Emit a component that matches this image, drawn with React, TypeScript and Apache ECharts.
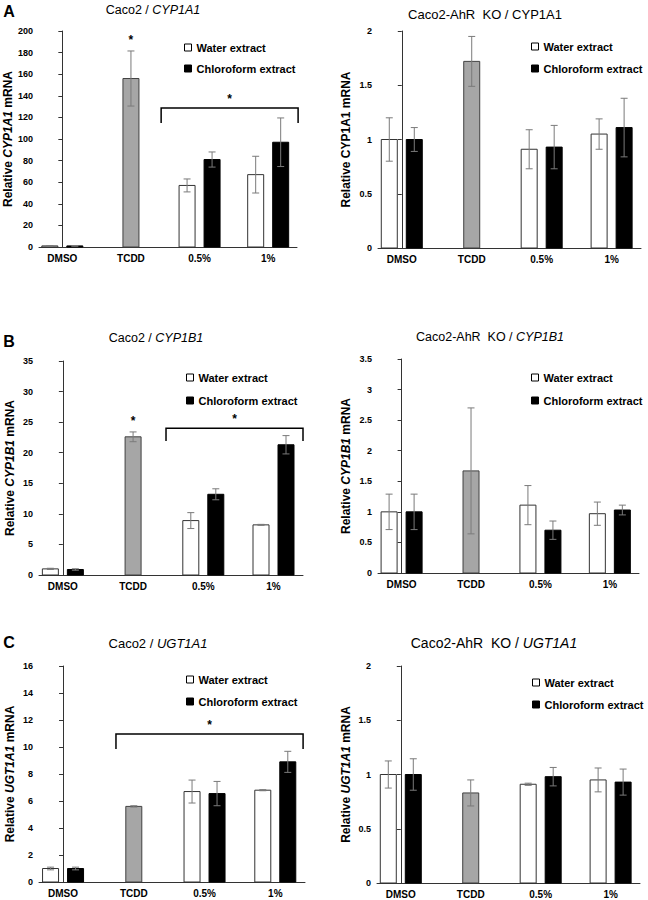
import React, { useEffect, useRef } from 'react';
import * as echarts from 'echarts';

// ---------- data ----------
const groups = ['DMSO', 'TCDD', '0.5%', '1%'];

// A: CYP1A1
const caco2Cyp1a1Water = [1, null, 57, 67];
const caco2Cyp1a1WaterErr = [0.3, null, 6, 17];
const caco2Cyp1a1Chloro = [1, null, 81, 97];
const caco2Cyp1a1ChloroErr = [0.3, null, 7, 22.5];
const caco2Cyp1a1Tcdd = 156;
const caco2Cyp1a1TcddErr = 25.5;

const koCyp1a1Water = [1.0, null, 0.91, 1.05];
const koCyp1a1WaterErr = [0.2, null, 0.18, 0.14];
const koCyp1a1Chloro = [1.0, null, 0.93, 1.11];
const koCyp1a1ChloroErr = [0.11, null, 0.2, 0.27];
const koCyp1a1Tcdd = 1.72;
const koCyp1a1TcddErr = 0.23;

// B: CYP1B1
const caco2Cyp1b1Water = [1, null, 8.9, 8.2];
const caco2Cyp1b1WaterErr = [0.1, null, 1.3, 0.08];
const caco2Cyp1b1Chloro = [0.9, null, 13.2, 21.3];
const caco2Cyp1b1ChloroErr = [0.12, null, 0.9, 1.5];
const caco2Cyp1b1Tcdd = 22.6;
const caco2Cyp1b1TcddErr = 0.8;

const koCyp1b1Water = [1.0, null, 1.11, 0.97];
const koCyp1b1WaterErr = [0.29, null, 0.32, 0.19];
const koCyp1b1Chloro = [1.0, null, 0.7, 1.03];
const koCyp1b1ChloroErr = [0.29, null, 0.15, 0.08];
const koCyp1b1Tcdd = 1.67;
const koCyp1b1TcddErr = 1.03;

// C: UGT1A1
const caco2Ugt1a1Water = [1.0, null, 6.7, 6.8];
const caco2Ugt1a1WaterErr = [0.1, null, 0.85, 0.04];
const caco2Ugt1a1Chloro = [1.0, null, 6.55, 8.9];
const caco2Ugt1a1ChloroErr = [0.1, null, 0.9, 0.78];
const caco2Ugt1a1Tcdd = 5.6;
const caco2Ugt1a1TcddErr = 0.05;

const koUgt1a1Water = [1.0, null, 0.91, 0.95];
const koUgt1a1WaterErr = [0.125, null, 0.01, 0.11];
const koUgt1a1Chloro = [1.0, null, 0.98, 0.93];
const koUgt1a1ChloroErr = [0.145, null, 0.085, 0.12];
const koUgt1a1Tcdd = 0.83;
const koUgt1a1TcddErr = 0.12;

// significance brackets: [start, end, level, drop] in axis units
const bracketA = [1.44, 3.436, 128.7, 114.8];
const bracketB = [1.469, 3.42, 24.0, 21.9];
const bracketC = [0.748, 3.393, 10.96, 9.85];

const yTicksA1 = { max: 200, interval: 20 };
const yTicksA2 = { max: 2, interval: 0.5 };
const yTicksB1 = { max: 35, interval: 5 };
const yTicksB2 = { max: 3.5, interval: 0.5 };
const yTicksC1 = { max: 16, interval: 2 };
const yTicksC2 = { max: 2, interval: 0.5 };

const FONT = 'Arial, "Liberation Sans", Helvetica, sans-serif';
const X_MIN = -0.34;
const X_MAX = 3.42;
const BAR_W = 16;
const PAIR_OFF = 12.5;

type Panel = {
  grid: { left: number; top: number; width: number; height: number };
  y: { max: number; interval: number };
  water: (number | null)[];
  waterErr: (number | null)[];
  chloro: (number | null)[];
  chloroErr: (number | null)[];
  tcdd: number;
  tcddErr: number;
  tcddStar: boolean;
  bracket: number[] | null;
  title: { pre: string; gene: string; italic: boolean; x: number; y: number; size: number };
  yGene: string;
  yItalic: boolean;
  nameGap: number;
  legend: { left: number; top: number; gap: number };
};

const panels: Panel[] = [
  {
    grid: { left: 39, top: 31, width: 258, height: 216 },
    y: yTicksA1,
    water: caco2Cyp1a1Water, waterErr: caco2Cyp1a1WaterErr,
    chloro: caco2Cyp1a1Chloro, chloroErr: caco2Cyp1a1ChloroErr,
    tcdd: caco2Cyp1a1Tcdd, tcddErr: caco2Cyp1a1TcddErr, tcddStar: true,
    bracket: bracketA,
    title: { pre: 'Caco2 / ', gene: 'CYP1A1', italic: true, x: 153, y: 10, size: 12.5 },
    yGene: 'CYP1A1', yItalic: true, nameGap: 25,
    legend: { left: 184, top: 42, gap: 10 },
  },
  {
    grid: { left: 378, top: 31, width: 263, height: 217 },
    y: yTicksA2,
    water: koCyp1a1Water, waterErr: koCyp1a1WaterErr,
    chloro: koCyp1a1Chloro, chloroErr: koCyp1a1ChloroErr,
    tcdd: koCyp1a1Tcdd, tcddErr: koCyp1a1TcddErr, tcddStar: false,
    bracket: null,
    title: { pre: 'Caco2-AhR  KO / ', gene: 'CYP1A1', italic: false, x: 485, y: 14, size: 13 },
    yGene: 'CYP1A1', yItalic: false, nameGap: 26,
    legend: { left: 531, top: 41, gap: 11 },
  },
  {
    grid: { left: 39, top: 361, width: 264, height: 214 },
    y: yTicksB1,
    water: caco2Cyp1b1Water, waterErr: caco2Cyp1b1WaterErr,
    chloro: caco2Cyp1b1Chloro, chloroErr: caco2Cyp1b1ChloroErr,
    tcdd: caco2Cyp1b1Tcdd, tcddErr: caco2Cyp1b1TcddErr, tcddStar: true,
    bracket: bracketB,
    title: { pre: 'Caco2 / ', gene: 'CYP1B1', italic: true, x: 156, y: 338, size: 12.5 },
    yGene: 'CYP1B1', yItalic: true, nameGap: 23,
    legend: { left: 186, top: 372, gap: 12 },
  },
  {
    grid: { left: 378, top: 359, width: 261, height: 214 },
    y: yTicksB2,
    water: koCyp1b1Water, waterErr: koCyp1b1WaterErr,
    chloro: koCyp1b1Chloro, chloroErr: koCyp1b1ChloroErr,
    tcdd: koCyp1b1Tcdd, tcddErr: koCyp1b1TcddErr, tcddStar: false,
    bracket: null,
    title: { pre: 'Caco2-AhR  KO / ', gene: 'CYP1B1', italic: true, x: 490, y: 337, size: 12.5 },
    yGene: 'CYP1B1', yItalic: true, nameGap: 26,
    legend: { left: 531, top: 372, gap: 12 },
  },
  {
    grid: { left: 39, top: 666, width: 266, height: 216 },
    y: yTicksC1,
    water: caco2Ugt1a1Water, waterErr: caco2Ugt1a1WaterErr,
    chloro: caco2Ugt1a1Chloro, chloroErr: caco2Ugt1a1ChloroErr,
    tcdd: caco2Ugt1a1Tcdd, tcddErr: caco2Ugt1a1TcddErr, tcddStar: false,
    bracket: bracketC,
    title: { pre: 'Caco2 / ', gene: 'UGT1A1', italic: true, x: 158, y: 643, size: 13 },
    yGene: 'UGT1A1', yItalic: true, nameGap: 23,
    legend: { left: 186, top: 674, gap: 11 },
  },
  {
    grid: { left: 377, top: 666, width: 263, height: 217 },
    y: yTicksC2,
    water: koUgt1a1Water, waterErr: koUgt1a1WaterErr,
    chloro: koUgt1a1Chloro, chloroErr: koUgt1a1ChloroErr,
    tcdd: koUgt1a1Tcdd, tcddErr: koUgt1a1TcddErr, tcddStar: false,
    bracket: null,
    title: { pre: 'Caco2-AhR  KO / ', gene: 'UGT1A1', italic: true, x: 494, y: 643, size: 14 },
    yGene: 'UGT1A1', yItalic: true, nameGap: 25,
    legend: { left: 532, top: 677, gap: 11 },
  },
];

const panelLetters = [
  { text: 'A', x: 9, y: 11 },
  { text: 'B', x: 9, y: 341 },
  { text: 'C', x: 9, y: 642 },
];

function barRenderer(offset: number, fill: string, stroke: string) {
  return (params: any, api: any) => {
    const x = api.value(0);
    const v = api.value(1);
    const e = api.value(2);
    const star = api.value(3);
    const base = api.coord([x, 0]);
    const top = api.coord([x, v]);
    const cx = base[0] + offset;
    const children: any[] = [
      {
        type: 'rect',
        shape: { x: cx - BAR_W / 2, y: top[1], width: BAR_W, height: base[1] - top[1] },
        style: { fill, stroke, lineWidth: 1 },
      },
    ];
    const hi = api.coord([x, v + e])[1];
    const lo = api.coord([x, Math.max(0, v - e)])[1];
    if (e > 0) {
      const es = { stroke: '#7a7a7a', lineWidth: 1 };
      children.push({ type: 'line', shape: { x1: cx, y1: hi, x2: cx, y2: lo }, style: es });
      children.push({ type: 'line', shape: { x1: cx - 3.5, y1: hi, x2: cx + 3.5, y2: hi }, style: es });
      children.push({ type: 'line', shape: { x1: cx - 3.5, y1: lo, x2: cx + 3.5, y2: lo }, style: es });
    }
    if (star) {
      children.push({
        type: 'text',
        style: {
          text: '*', x: cx, y: hi - 5, align: 'center', verticalAlign: 'bottom',
          fontSize: 12, fontWeight: 'bold', fontFamily: FONT, fill: '#000',
        },
      });
    }
    return { type: 'group', children };
  };
}

function bracketRenderer(params: any, api: any) {
  const x0 = api.value(0);
  const x1 = api.value(1);
  const lvl = api.value(2);
  const drop = api.value(3);
  const p0 = api.coord([x0, lvl]);
  const p1 = api.coord([x1, lvl]);
  const d = api.coord([x0, drop])[1];
  return {
    type: 'group',
    children: [
      {
        type: 'polyline',
        shape: { points: [[p0[0], d], [p0[0], p0[1]], [p1[0], p1[1]], [p1[0], d]] },
        style: { stroke: '#000', lineWidth: 1.5, fill: 'none' },
      },
      {
        type: 'text',
        style: {
          text: '*', x: (p0[0] + p1[0]) / 2, y: p0[1] - 3, align: 'center', verticalAlign: 'bottom',
          fontSize: 12, fontWeight: 'bold', fontFamily: FONT, fill: '#000',
        },
      },
    ],
  };
}

function toData(vals: (number | null)[], errs: (number | null)[]) {
  const out: number[][] = [];
  vals.forEach((v, i) => {
    if (v !== null && v !== undefined) out.push([i, v, (errs[i] as number) || 0, 0]);
  });
  return out;
}

function buildOption() {
  const grid: any[] = [];
  const xAxis: any[] = [];
  const yAxis: any[] = [];
  const series: any[] = [];
  const legend: any[] = [];
  const graphic: any[] = [];

  panels.forEach((p, idx) => {
    grid.push({ ...p.grid, containLabel: false });
    xAxis.push({
      type: 'value',
      gridIndex: idx,
      min: X_MIN,
      max: X_MAX,
      axisLine: { show: true, lineStyle: { color: '#333', width: 1 } },
      axisTick: { show: false },
      splitLine: { show: false },
      axisLabel: {
        customValues: [0, 1, 2, 3],
        formatter: (v: number) => groups[Math.round(v)] ?? '',
        fontFamily: FONT,
        fontWeight: 'bold',
        fontSize: 10,
        color: '#000',
        margin: 6,
      },
    });
    const nameRich = {
      n: { fontFamily: FONT, fontWeight: 'bold', fontSize: 12, color: '#000' },
      i: { fontFamily: FONT, fontWeight: 'bold', fontSize: 12, color: '#000', fontStyle: p.yItalic ? 'italic' : 'normal' },
    };
    yAxis.push({
      type: 'value',
      gridIndex: idx,
      min: 0,
      max: p.y.max,
      interval: p.y.interval,
      name: `{n|Relative }{i|${p.yGene}}{n| mRNA}`,
      nameLocation: 'middle',
      nameRotate: 90,
      nameGap: p.nameGap,
      nameTextStyle: { rich: nameRich },
      axisLine: { show: true, lineStyle: { color: '#333', width: 1 } },
      axisTick: { show: true, inside: false, length: 4, lineStyle: { color: '#333' } },
      splitLine: { show: false },
      axisLabel: { fontFamily: FONT, fontWeight: 'bold', fontSize: 9, color: '#000', margin: 6 },
    });

    series.push({
      type: 'custom',
      name: 'Water extract',
      xAxisIndex: idx,
      yAxisIndex: idx,
      renderItem: barRenderer(-PAIR_OFF, '#ffffff', '#333333'),
      itemStyle: { color: '#ffffff', borderColor: '#000', borderWidth: 1 },
      encode: { x: 0, y: 1 },
      data: toData(p.water, p.waterErr),
      z: 3,
    });
    series.push({
      type: 'custom',
      name: 'Chloroform extract',
      xAxisIndex: idx,
      yAxisIndex: idx,
      renderItem: barRenderer(PAIR_OFF, '#000000', '#000000'),
      itemStyle: { color: '#000000', borderColor: '#000', borderWidth: 1 },
      encode: { x: 0, y: 1 },
      data: toData(p.chloro, p.chloroErr),
      z: 3,
    });
    series.push({
      type: 'custom',
      name: 'TCDD',
      xAxisIndex: idx,
      yAxisIndex: idx,
      renderItem: barRenderer(0, '#a6a6a6', '#404040'),
      itemStyle: { color: '#a6a6a6' },
      encode: { x: 0, y: 1 },
      data: [[1, p.tcdd, p.tcddErr, p.tcddStar ? 1 : 0]],
      z: 3,
    });
    if (p.bracket) {
      series.push({
        type: 'custom',
        name: 'bracket',
        xAxisIndex: idx,
        yAxisIndex: idx,
        renderItem: bracketRenderer,
        encode: { x: [0, 1], y: [2, 3] },
        data: [p.bracket],
        z: 4,
        silent: true,
      });
    }

    legend.push({
      orient: 'vertical',
      left: p.legend.left,
      top: p.legend.top,
      padding: 0,
      itemGap: p.legend.gap,
      itemWidth: 7,
      itemHeight: 7,
      selectedMode: false,
      textStyle: { fontFamily: FONT, fontWeight: 'bold', fontSize: 11, color: '#000' },
      data: [
        { name: 'Water extract', icon: 'rect', itemStyle: { color: '#ffffff', borderColor: '#000', borderWidth: 1 } },
        { name: 'Chloroform extract', icon: 'rect', itemStyle: { color: '#000000', borderColor: '#000', borderWidth: 1 } },
      ],
    });

    graphic.push({
      type: 'text',
      x: p.title.x,
      y: p.title.y,
      style: {
        text: `{n|${p.title.pre}}{i|${p.title.gene}}`,
        align: 'center',
        verticalAlign: 'middle',
        fontFamily: FONT,
        fontSize: p.title.size,
        fill: '#000',
        rich: {
          n: { fontFamily: FONT, fontSize: p.title.size, fill: '#000' },
          i: { fontFamily: FONT, fontSize: p.title.size, fill: '#000', fontStyle: p.title.italic ? 'italic' : 'normal' },
        },
      },
    });
  });

  panelLetters.forEach((l) => {
    graphic.push({
      type: 'text',
      x: l.x,
      y: l.y,
      style: {
        text: l.text,
        align: 'center',
        verticalAlign: 'middle',
        fontFamily: FONT,
        fontWeight: 'bold',
        fontSize: 16,
        fill: '#000',
      },
    });
  });

  return {
    animation: false,
    backgroundColor: '#ffffff',
    grid,
    xAxis,
    yAxis,
    series,
    legend,
    graphic,
  };
}

export default function App() {
  const ref = useRef<HTMLDivElement>(null);
  useEffect(() => {
    if (!ref.current) return;
    const chart = echarts.init(ref.current, undefined, { renderer: 'svg' });
    chart.setOption(buildOption() as any);
    return () => chart.dispose();
  }, []);
  return (
    <div
      ref={ref}
      style={{ position: 'absolute', left: 0, top: 0, width: 648, height: 900, background: '#fff' }}
    />
  );
}
